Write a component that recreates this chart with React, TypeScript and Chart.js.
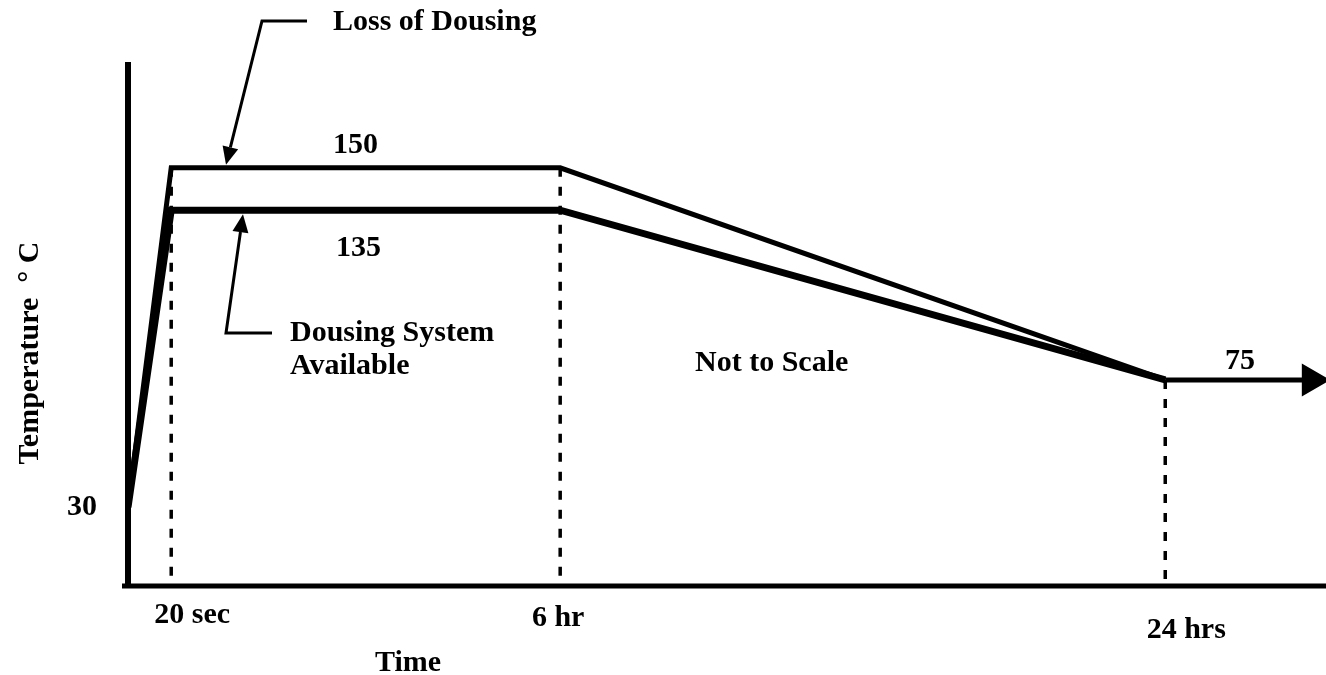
import { useEffect, useRef } from "react";
import { Chart, registerables } from "chart.js";

Chart.register(...registerables);

// ---- Data (schematic, "Not to Scale") ----
const timeLabels = ["0", "20 sec", "6 hr", "24 hrs"];
// schematic horizontal positions of the time marks (the drawing is not to scale)
const timePos = [0, 1, 10, 24];
const arrowEndPos = 27.38;
const lossOfDousing = [30, 150, 150, 75]; // °C
const dousingAvailable = [30, 135, 135, 75]; // °C
const longTermTemp = 75; // °C after 24 hrs
const startTemp = 30; // °C

const X_MIN = 0;
const X_MAX = 27.28;
const Y_MIN = 2.15;
const Y_MAX = 187.4;

const FONT = 'bold 30px "Liberation Serif", "Times New Roman", serif';

function drawArrow(ctx: CanvasRenderingContext2D, pts: number[][], headLen: number, headW: number, lw: number) {
  const n = pts.length;
  const [tx, ty] = pts[n - 1];
  const [px, py] = pts[n - 2];
  const dx = tx - px, dy = ty - py;
  const len = Math.hypot(dx, dy);
  const ux = dx / len, uy = dy / len;
  const bx = tx - ux * headLen, by = ty - uy * headLen;
  ctx.lineWidth = lw;
  ctx.beginPath();
  ctx.moveTo(pts[0][0], pts[0][1]);
  for (let i = 1; i < n - 1; i++) ctx.lineTo(pts[i][0], pts[i][1]);
  ctx.lineTo(bx, by);
  ctx.stroke();
  ctx.beginPath();
  ctx.moveTo(tx, ty);
  ctx.lineTo(bx - uy * headW, by + ux * headW);
  ctx.lineTo(bx + uy * headW, by - ux * headW);
  ctx.closePath();
  ctx.fill();
}

const schematicPlugin = {
  id: "schematic",
  beforeDatasetsDraw(chart: any) {
    const { ctx, chartArea } = chart;
    ctx.save();
    ctx.strokeStyle = "#000";
    ctx.lineCap = "butt";
    ctx.lineWidth = 6;
    ctx.beginPath();
    ctx.moveTo(chartArea.left, chartArea.top);
    ctx.lineTo(chartArea.left, chartArea.bottom + 2);
    ctx.stroke();
    ctx.lineWidth = 5;
    ctx.beginPath();
    ctx.moveTo(chartArea.left - 6, chartArea.bottom);
    ctx.lineTo(chart.width, chartArea.bottom);
    ctx.stroke();
    ctx.restore();
  },
  afterDatasetsDraw(chart: any) {
    const { ctx, scales } = chart;
    const xs = scales.x, ys = scales.y;
    ctx.save();
    ctx.fillStyle = "#000";
    ctx.strokeStyle = "#000";
    ctx.font = FONT;
    ctx.textBaseline = "middle";

    const left = (t: string, x: number, y: number) => { ctx.textAlign = "left"; ctx.fillText(t, x, y); };
    const center = (t: string, x: number, y: number) => { ctx.textAlign = "center"; ctx.fillText(t, x, y); };

    const yTop = ys.getPixelForValue(lossOfDousing[1]);
    const yMid = ys.getPixelForValue(dousingAvailable[1]);

    left("Loss of Dousing", 333, 22);
    left(String(lossOfDousing[1]), 333, yTop - 23);
    left(String(dousingAvailable[1]), 336, yMid + 38);
    left("Dousing System", 290, 333);
    left("Available", 290, 366);
    left("Not to Scale", 695, 363);
    left(String(longTermTemp), 1225, ys.getPixelForValue(longTermTemp) - 19);
    center(String(startTemp), 82, ys.getPixelForValue(startTemp));

    center(timeLabels[1], xs.getPixelForValue(timePos[1]) + 21, 615);
    center(timeLabels[2], xs.getPixelForValue(timePos[2]) - 2, 618);
    center(timeLabels[3], xs.getPixelForValue(timePos[3]) + 21, 630);
    center("Time", 408, 663);

    ctx.save();
    ctx.translate(30, 353);
    ctx.rotate(-Math.PI / 2);
    center("Temperature  \u00B0 C", 0, 0);
    ctx.restore();

    // call-out arrows
    drawArrow(ctx, [[307, 21], [262, 21], [226, yTop - 3]], 18, 8, 3);
    drawArrow(ctx, [[272, 333], [226, 333], [243, yMid + 4]], 18, 8, 3);
    ctx.restore();
  },
};

const toPts = (vals: number[]) => vals.map((v, i) => ({ x: timePos[i], y: v }));

export default function App() {
  const ref = useRef<HTMLCanvasElement | null>(null);
  useEffect(() => {
    if (!ref.current) return;
    const markers = [1, 2, 3].map((i) => ({
      label: "marker " + timeLabels[i],
      data: [
        { x: timePos[i], y: lossOfDousing[i] },
        { x: timePos[i], y: Y_MIN },
      ],
      borderColor: "#000",
      borderWidth: 3.5,
      borderDash: [9, 10],
      pointRadius: 0,
    }));
    const chart = new Chart(ref.current, {
      type: "line",
      data: {
        datasets: [
          ...markers,
          {
            label: "Loss of Dousing",
            data: toPts(lossOfDousing),
            borderColor: "#000",
            borderWidth: 5,
            pointRadius: 0,
            tension: 0,
          },
          {
            label: "Dousing System Available",
            data: toPts(dousingAvailable),
            borderColor: "#000",
            borderWidth: 7,
            pointRadius: 0,
            tension: 0,
          },
          {
            label: "Long term",
            data: [
              { x: timePos[3], y: longTermTemp },
              { x: arrowEndPos, y: longTermTemp },
            ],
            borderColor: "#000",
            backgroundColor: "#000",
            borderWidth: 5,
            pointRadius: [0, 14],
            pointStyle: "triangle",
            rotation: 90,
            pointBackgroundColor: "#000",
            pointBorderColor: "#000",
            clip: false,
          } as any,
        ],
      },
      options: {
        responsive: false,
        animation: false,
        devicePixelRatio: 1,
        layout: { padding: { left: 128, top: 62, right: 0, bottom: 675 - 586 } },
        plugins: { legend: { display: false }, tooltip: { enabled: false } },
        scales: {
          x: { type: "linear", display: false, min: X_MIN, max: X_MAX },
          y: { type: "linear", display: false, min: Y_MIN, max: Y_MAX },
        },
      },
      plugins: [schematicPlugin],
    });
    return () => chart.destroy();
  }, []);
  return (
    <div style={{ position: "fixed", left: 0, top: 0, width: 1326, height: 675, background: "#fff" }}>
      <canvas ref={ref} width={1326} height={675} />
    </div>
  );
}
